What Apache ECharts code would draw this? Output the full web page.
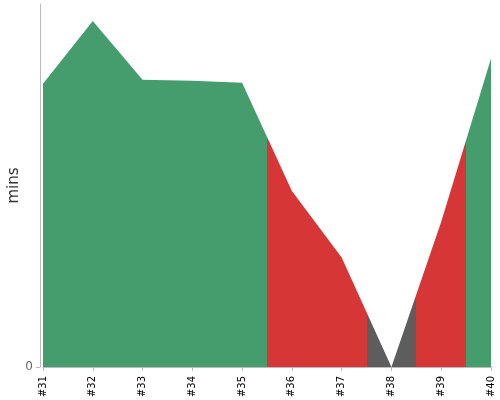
<!DOCTYPE html>
<html>
<head>
<meta charset="utf-8">
<script src="https://cdn.jsdelivr.net/npm/echarts@6/dist/echarts.min.js"></script>
<style>
html,body{margin:0;padding:0;background:#fff;}
#chart{width:500px;height:400px;}
</style>
</head>
<body>
<div id="chart"></div>
<script>
// Data
const builds = ['#31', '#32', '#33', '#34', '#35', '#36', '#37', '#38', '#39', '#40'];
const durations = [46.8, 57.2, 47.5, 47.3, 47.0, 29.1, 18.1, 0, 24.0, 51.0];
const statuses = ['SUCCESS', 'SUCCESS', 'SUCCESS', 'SUCCESS', 'SUCCESS', 'FAILURE', 'FAILURE', 'ABORTED', 'FAILURE', 'SUCCESS'];
const yTicks = [0];

const statusColors = { SUCCESS: '#459d6e', FAILURE: '#d63636', ABORTED: '#5d5d5d' };

// hard-stop gradient: each build owns the half-interval on both sides of its point
const n = builds.length;
const stops = [];
statuses.forEach((s, i) => {
  const c = statusColors[s];
  const a = Math.max(0, (i - 0.5) / (n - 1));
  const b = Math.min(1, (i + 0.5) / (n - 1));
  stops.push({ offset: a, color: c });
  stops.push({ offset: b, color: c });
});
const areaFill = new echarts.graphic.LinearGradient(0, 0, 1, 0, stops);

const chart = echarts.init(document.getElementById('chart'));
chart.setOption({
  animation: false,
  grid: { left: 43, right: 9, top: 4, bottom: 33, containLabel: false, outerBoundsMode: 'none' },
  xAxis: {
    type: 'category',
    data: builds,
    boundaryGap: false,
    offset: 4,
    axisLine: { lineStyle: { color: '#bbbbbb', width: 1 } },
    axisTick: { show: true, length: 4, alignWithLabel: true, lineStyle: { color: '#bbbbbb' } },
    axisLabel: {
      rotate: 90,
      color: '#000',
      fontFamily: 'DejaVu Sans',
      fontSize: 10,
      margin: 5,
      interval: 0
    }
  },
  yAxis: {
    type: 'value',
    min: 0,
    max: 60,
    offset: 3,
    name: 'mins',
    nameLocation: 'middle',
    nameGap: 18,
    nameMoveOverlap: false,
    nameTextStyle: { fontFamily: 'DejaVu Sans', fontSize: 15, color: '#333' },
    axisLine: { show: true, lineStyle: { color: '#bbbbbb', width: 1 } },
    axisTick: { show: true, length: 4, customValues: yTicks, lineStyle: { color: '#bbbbbb' } },
    axisLabel: { customValues: yTicks, color: '#666', fontFamily: 'DejaVu Sans', fontSize: 12, margin: 7 },
    splitLine: { show: false }
  },
  series: [{
    type: 'line',
    data: durations,
    showSymbol: false,
    symbol: 'none',
    lineStyle: { width: 0 },
    areaStyle: { opacity: 1, color: areaFill }
  }]
});
</script>
</body>
</html>
